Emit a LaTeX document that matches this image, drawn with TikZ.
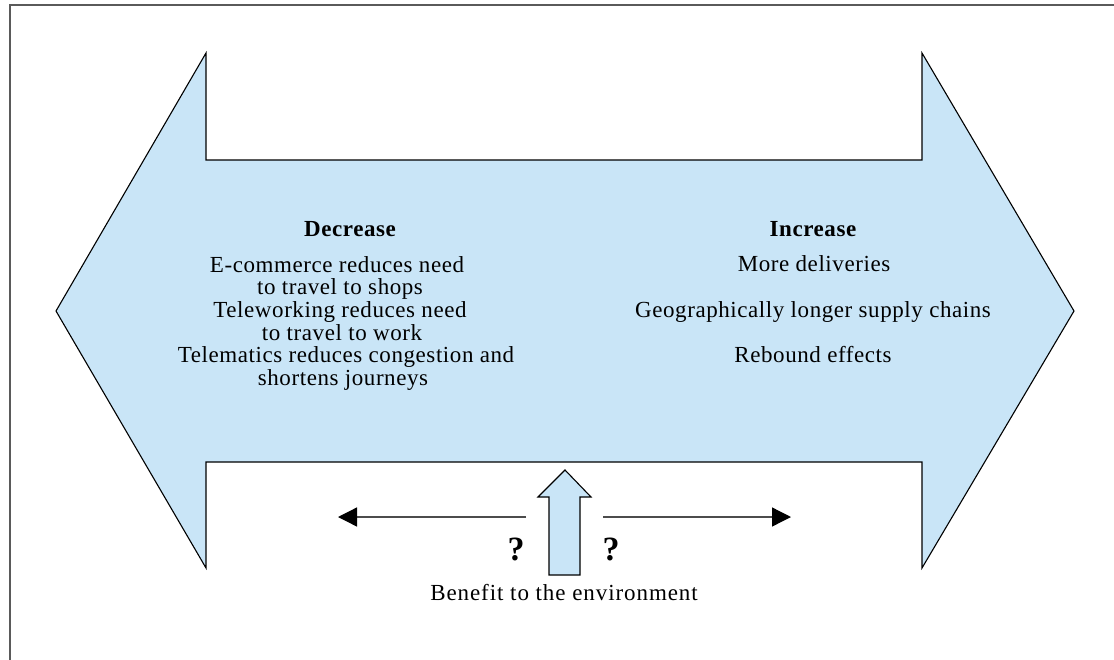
\documentclass[tikz,border=0pt]{standalone}
\usepackage{fontspec}
\setmainfont{Liberation Serif}
\usetikzlibrary{arrows.meta}
\definecolor{arrowblue}{RGB}{201,229,247}
\definecolor{framegray}{RGB}{90,90,90}
\tikzset{
  txt/.style={inner sep=0pt, anchor=base, font=\fontsize{23}{23}\selectfont\addfontfeature{LetterSpace=2.5}},
  bold/.style={txt, font=\fontsize{23}{23}\selectfont\bfseries\addfontfeature{LetterSpace=2.5}},
  qmark/.style={txt, font=\fontsize{34}{34}\selectfont\bfseries},
  blueshape/.style={draw=black, fill=arrowblue, line width=1.1pt, line join=miter},
  side/.style={draw=black!70, line width=1.3pt, -{Triangle[length=19pt,width=19pt,color=black]}}
}
\begin{document}
\begin{tikzpicture}[x=1pt,y=-1pt]
\useasboundingbox (0,0) rectangle (1114,659);
% frame
\draw[framegray, line width=1.5pt] (10,660) -- (10,5) -- (1115,5);
% big double arrow
\draw[blueshape] (56,311) -- (206,53) -- (206,160) -- (922,160) -- (922,53) -- (1074,311)
  -- (922,568) -- (922,462) -- (206,462) -- (206,568) -- cycle;
% small up arrow
\draw[blueshape] (549,575) -- (549,497) -- (538,497) -- (565,470) -- (591,497) -- (580,497) -- (580,575) -- cycle;
% side arrows
\coordinate (ls) at (526,517);
\coordinate (le) at (338,517);
\coordinate (rs) at (603,517);
\coordinate (re) at (791,517);
\draw[side] (ls) -- (le);
\draw[side] (rs) -- (re);
% left text
\node[bold] (dec) at (350,236) {Decrease};
\node[txt] (l1) at (337,272) {E-commerce reduces need};
\node[txt] (l2) at (340,294) {to travel to shops};
\node[txt] (l3) at (340,317) {Teleworking reduces need};
\node[txt] (l4) at (342,340) {to travel to work};
\node[txt] (l5) at (346,362) {Telematics reduces congestion and};
\node[txt] (l6) at (343,385) {shortens journeys};
% right text
\node[bold] (inc) at (813,236) {Increase};
\node[txt] (r1) at (814,271) {More deliveries};
\node[txt] (r2) at (813,317) {Geographically longer supply chains};
\node[txt] (r3) at (813,362) {Rebound effects};
% bottom
\node[qmark] (q1) at (516,560) {?};
\node[qmark] (q2) at (611,560) {?};
\node[txt] (ben) at (564,600) {\addfontfeature{LetterSpace=4}Benefit to the environment};
\end{tikzpicture}
\end{document}
